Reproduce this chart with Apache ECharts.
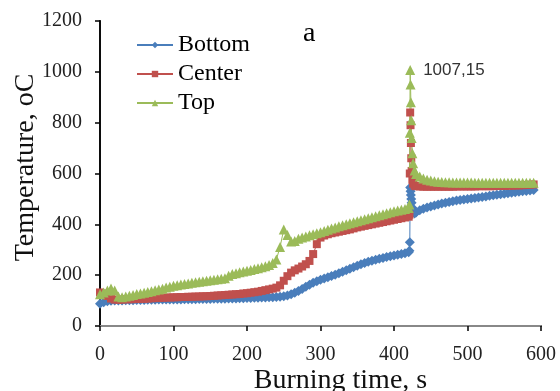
<!DOCTYPE html>
<html>
<head>
<meta charset="utf-8">
<script src="https://cdn.jsdelivr.net/npm/echarts@6/dist/echarts.min.js"></script>
<style>
  html, body { margin: 0; padding: 0; background: #fff; }
  #chart { width: 560px; height: 391px; }
</style>
</head>
<body>
<div id="chart"></div>
<script>
// burning time, s
const times = [
  0,5,10,15,20,25,30,35,40,45,50,55,60,65,70,75,80,85,90,95,
  100,105,110,115,120,125,130,135,140,145,150,155,160,165,170,175,180,185,190,195,
  200,205,210,215,220,225,230,235,240,245,250,255,260,265,270,275,280,285,290,295,
  300,305,310,315,320,325,330,335,340,345,350,355,360,365,370,375,380,385,390,395,
  400,405,410,415,420,
  421,421.5,422,422.5,423,423.5,424,425,426,428,
  430,435,440,445,450,455,460,465,470,475,480,485,490,495,
  500,505,510,515,520,525,530,535,540,545,550,555,560,565,570,575,580,585,590
];

const bottom = [
  88,93,97,99,100,100,100,101,101,101,102,102,102,103,103,103,104,104,104,104,
  104,104,104,105,105,105,105,106,106,106,106,107,107,107,107,108,108,108,109,109,
  110,110,111,111,112,112,113,113,114,115,117,120,125,131,138,146,154,162,170,176,
  182,187,192,197,202,208,213,219,225,231,237,243,248,253,257,261,265,268,271,274,
  277,280,283,286,290,
  296,330,545,530,515,500,485,465,452,443,
  447,455,461,466,470,474,478,482,485,488,491,494,496,498,
  500,502,504,506,508,510,512,514,516,518,520,522,524,526,528,530,531,533,535
];

const center = [
  132,128,118,108,104,103,104,105,105,106,106,107,107,108,109,110,110,111,112,112,
  113,113,114,114,115,115,116,116,117,117,118,119,120,121,122,123,124,125,126,128,
  129,131,133,135,138,141,144,147,151,160,178,196,210,219,226,234,243,256,283,322,
  348,356,361,365,368,371,374,377,380,384,388,391,394,397,400,403,406,409,412,415,
  418,421,424,427,430,
  438,600,840,790,720,660,610,575,560,552,
  550,549,548,548,548,548,548,548,548,548,548,549,549,549,
  549,549,549,550,550,550,550,550,551,551,551,552,552,553,553,554,555,556,557
];

const top_ = [
  125,132,140,148,140,116,113,116,119,122,126,128,131,134,137,141,144,147,151,154,
  158,160,163,165,167,170,172,174,176,178,180,182,184,186,188,198,205,208,211,214,
  217,220,224,227,231,235,240,248,262,311,380,358,332,334,343,348,352,357,361,365,
  369,374,379,384,388,392,396,400,404,408,412,416,420,424,428,432,436,440,444,448,
  451,454,457,460,464,
  478,760,1007.15,950,880,810,740,680,640,612,
  598,588,580,575,572,570,568,567,566,566,565,565,565,565,
  565,565,564,564,564,564,564,564,564,564,564,564,564,564,564,564,564,564,564
];

const seriesNames = ['Bottom', 'Center', 'Top'];
const peakLabel = '1007,15';

const serif = 'Liberation Serif';

const toPairs = (vals) => times.map((t, i) => [t, vals[i]]);

const topData = toPairs(top_).map((p) => {
  if (p[1] === 1007.15) {
    return {
      value: p,
      label: {
        show: true,
        position: 'right',
        distance: 8,
        formatter: peakLabel,
        fontFamily: 'Liberation Sans',
        fontSize: 17,
        color: '#333'
      }
    };
  }
  return p;
});

const chart = echarts.init(document.getElementById('chart'));

const option = {
  animation: false,
  grid: { left: 100, right: 19, top: 21, bottom: 65, outerBoundsMode: 'none' },
  legend: {
    orient: 'vertical',
    left: 131,
    top: 28,
    itemGap: 5,
    itemWidth: 36,
    itemHeight: 8,
    textStyle: { fontFamily: serif, fontSize: 24, color: '#000' },
    data: seriesNames
  },
  graphic: [{
    type: 'text',
    left: 303,
    top: 20,
    style: { text: 'a', font: '28px "Liberation Serif"', fill: '#000' }
  }],
  xAxis: [{
    type: 'value',
    min: 0, max: 600, interval: 100,
    name: 'Burning time, s',
    nameLocation: 'middle',
    nameGap: 41,
    nameMoveOverlap: false,
    nameTextStyle: { fontFamily: serif, fontSize: 28, color: '#111', padding: [0, 0, 0, 40] },
    axisLine: { show: true, lineStyle: { color: '#000', width: 2 } },
    axisTick: { show: true, inside: false, length: 5, lineStyle: { color: '#000', width: 1.5 } },
    axisLabel: { fontFamily: serif, fontSize: 20, color: '#222', margin: 19 },
    splitLine: { show: false }
  }, {
    type: 'value',
    position: 'top',
    min: 0, max: 600,
    axisLine: { show: true, lineStyle: { color: '#888', width: 2 } },
    axisTick: { show: false },
    axisLabel: { show: false },
    splitLine: { show: false }
  }],
  yAxis: [{
    type: 'value',
    min: 0, max: 1200, interval: 200,
    name: 'Temperature, oC',
    nameLocation: 'middle',
    nameGap: 60,
    nameMoveOverlap: false,
    nameTextStyle: { fontFamily: serif, fontSize: 28, color: '#111', padding: [0, 0, 0, 12] },
    axisLine: { show: true, lineStyle: { color: '#000', width: 2 } },
    axisTick: { show: true, inside: false, length: 5, lineStyle: { color: '#000', width: 1.5 } },
    axisLabel: { fontFamily: serif, fontSize: 20, color: '#222', margin: 18, formatter: (v) => String(v) },
    splitLine: { show: false }
  }, {
    type: 'value',
    position: 'right',
    min: 0, max: 1200,
    axisLine: { show: true, lineStyle: { color: '#111', width: 1.5 } },
    axisTick: { show: false },
    axisLabel: { show: false },
    splitLine: { show: false }
  }],
  series: [{
    name: seriesNames[0],
    type: 'line',
    data: toPairs(bottom),
    symbol: 'diamond',
    symbolSize: 10,
    showAllSymbol: true,
    color: '#4a7ebb',
    lineStyle: { width: 1, color: '#4a7ebb' },
    itemStyle: { color: '#4a7ebb' }
  }, {
    name: seriesNames[1],
    type: 'line',
    data: toPairs(center),
    symbol: 'rect',
    symbolSize: 8,
    showAllSymbol: true,
    color: '#c0504d',
    lineStyle: { width: 1, color: '#c0504d' },
    itemStyle: { color: '#c0504d' }
  }, {
    name: seriesNames[2],
    type: 'line',
    data: topData,
    symbol: 'triangle',
    symbolSize: 10,
    showAllSymbol: true,
    color: '#9bbb59',
    lineStyle: { width: 1, color: '#9bbb59' },
    itemStyle: { color: '#9bbb59' }
  }]
};

chart.setOption(option);
</script>
</body>
</html>
